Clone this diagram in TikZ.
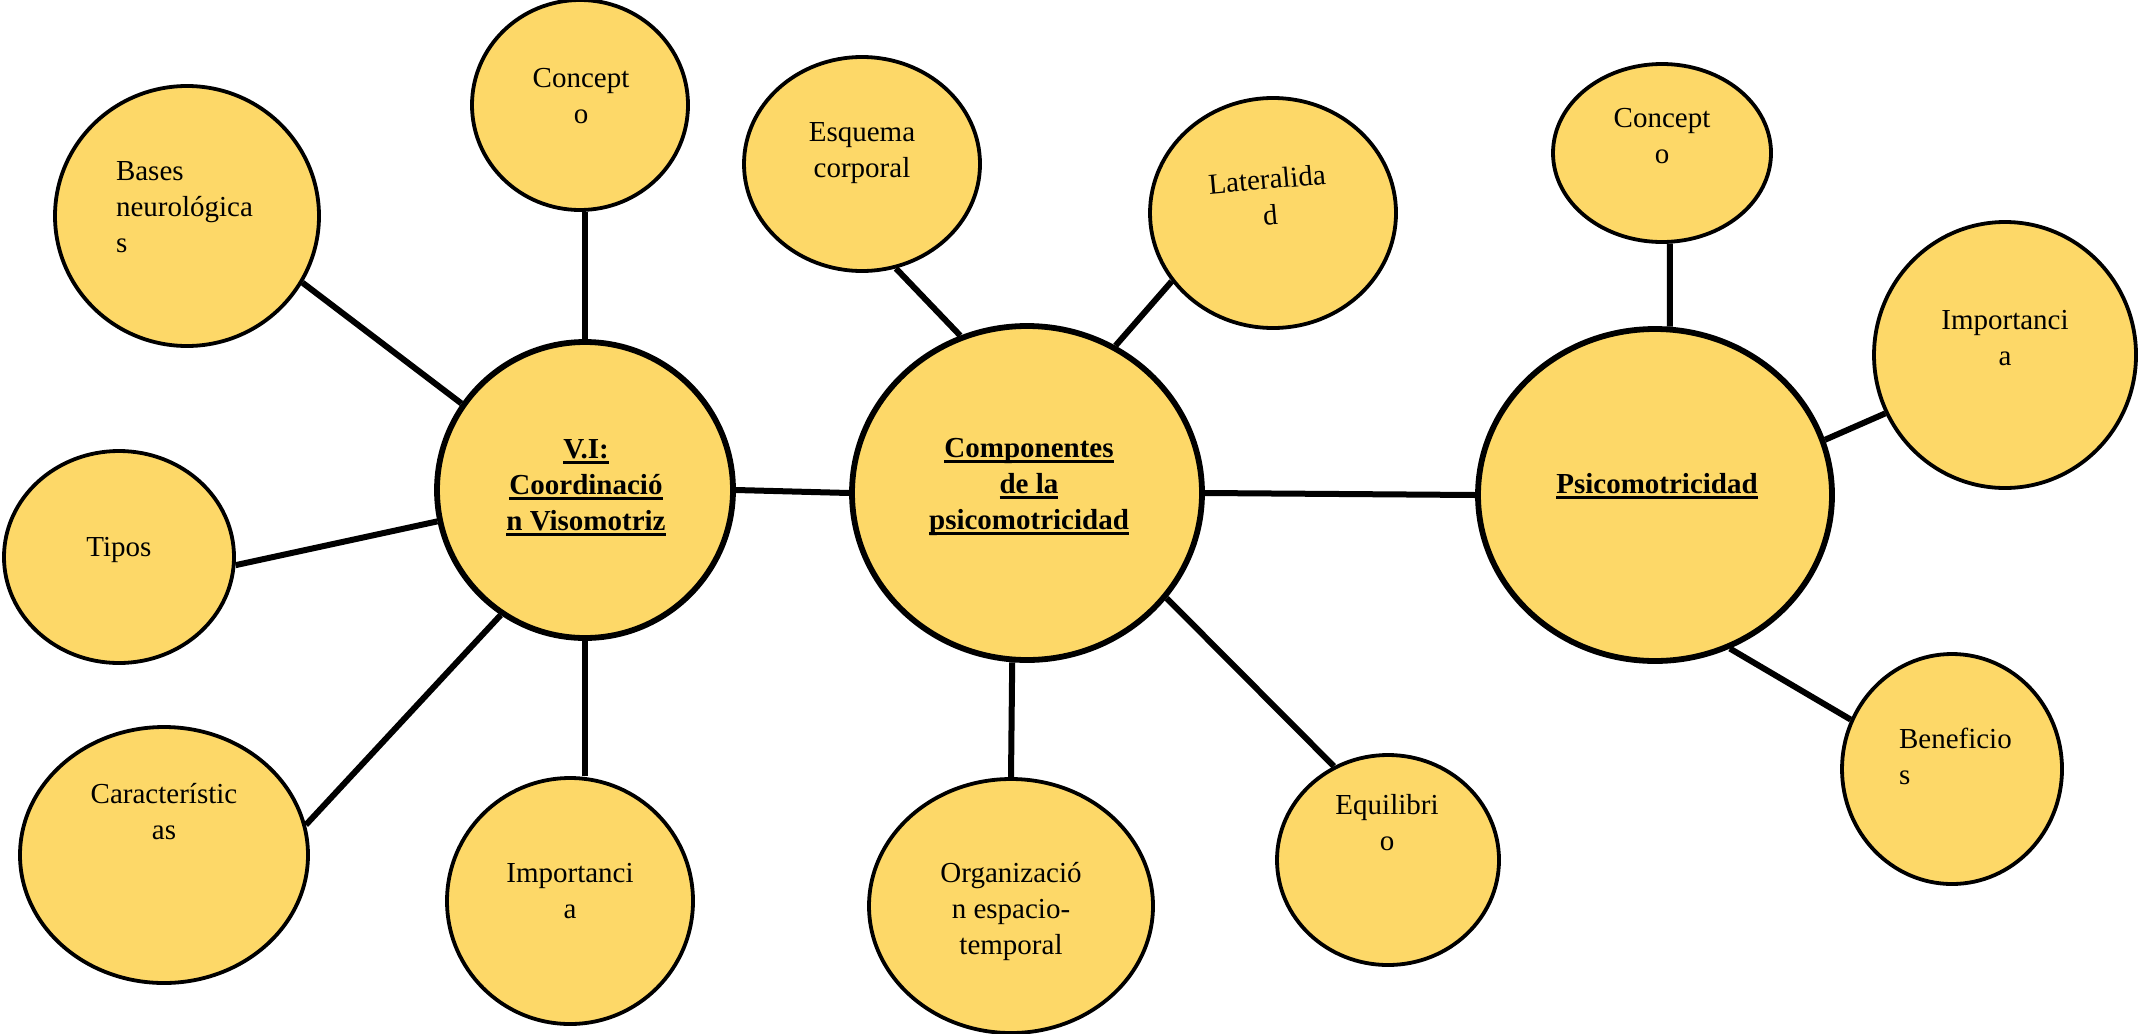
\documentclass[tikz,border=0pt]{standalone}
\usepackage{fontspec}
\setmainfont{Liberation Serif}
\usetikzlibrary{shapes.geometric}
\definecolor{fillColor}{RGB}{253,216,104}
\definecolor{drawColor}{RGB}{0,0,0}
\newsavebox{\ulbox}
\newcommand{\wordul}[1]{\sbox{\ulbox}{#1}\rlap{\rule[-2.8pt]{\wd\ulbox}{1.3pt}}\usebox{\ulbox}}
\tikzset{
  bubble/.style={ellipse, draw=drawColor, fill=fillColor, line width=1.9pt, inner sep=0pt},
  hub/.style={bubble, line width=2.9pt},
  lbl/.style={text=drawColor, font=\fontsize{14.5}{18}\selectfont, align=center, anchor=base, inner sep=0pt, outer sep=0pt},
  hublbl/.style={lbl, font=\fontsize{14.5}{18}\selectfont\bfseries},
  link/.style={draw=drawColor, line width=3pt}
}
\begin{document}
\begin{tikzpicture}[x=0.5pt,y=-0.5pt]
\path[use as bounding box,fill=white] (0,0) rectangle (2139,1033);

% bubbles
\node[bubble, minimum width=108pt, minimum height=105pt] (conc1) at ( 580,105) {};
\node[bubble, minimum width=132pt, minimum height=130pt] (bases) at ( 187,216) {};
\node[bubble, minimum width=115pt, minimum height=106pt] (tipos) at ( 119,557) {};
\node[bubble, minimum width=144pt, minimum height=128pt] (carac) at ( 164,855) {};
\node[bubble, minimum width=123pt, minimum height=123pt] (imp1)  at ( 570,901) {};
\node[hub,    minimum width=148pt, minimum height=148pt] (vi)    at ( 585,490) {};
\node[hub,    minimum width=175pt, minimum height=167pt] (comp)  at (1027,493) {};
\node[hub,    minimum width=177pt, minimum height=166pt] (psico) at (1655,495) {};
\node[bubble, minimum width=118pt, minimum height=107pt] (esq)   at ( 862,164) {};
\node[bubble, minimum width=123pt, minimum height=115pt] (lat)   at (1273,213) {};
\node[bubble, minimum width=142pt, minimum height=127pt] (org)   at (1011,906) {};
\node[bubble, minimum width=111pt, minimum height=105pt] (equ)   at (1388,860) {};
\node[bubble, minimum width=109pt, minimum height= 89pt] (conc2) at (1662,153) {};
\node[bubble, minimum width=131pt, minimum height=133pt] (imp2)  at (2005,355) {};
\node[bubble, minimum width=110pt, minimum height=115pt] (ben)   at (1952,769) {};

% links
\draw[link] (vi.north) -- (vi.north |- conc1.south);
\draw[link] (vi.145) -- (bases.330);
\draw[link] (vi.192) -- (tipos.356);
\draw[link] (vi.236) -- (carac.12);
\draw[link] (vi.south) -- (vi.south |- imp1.north);
\draw[link] (vi.east) -- (comp.west);
\draw[link] (comp.113) -- (esq.288);
\draw[link] (comp.59) -- (lat.214);
\draw[link] (comp.265) -- (org.north);
\draw[link] (comp.323) -- (equ.120);
\draw[link] (comp.east) -- (psico.west);
\draw[link] (psico.85) -- (conc2.275);
\draw[link] (psico.18) -- (imp2.206);
\draw[link] (psico.296) -- (ben.154);

% labels (anchored at the baseline of the last line)
\node[lbl] (conc1-t) at ( 581,123) {Concept\\o};
\node[lbl, align=left, anchor=base west] (bases-t) at (116,252) {Bases\\neurológica\\s};
\node[lbl] (tipos-t) at ( 119,556) {Tipos};
\node[lbl] (carac-t) at ( 164,839) {Característic\\as};
\node[lbl] (imp1-t)  at ( 570,918) {Importanci\\a};
\node[hublbl] (vi-t) at ( 586,530) {\wordul{V.I:}\\\wordul{Coordinació}\\\wordul{n Visomotriz}};
\node[hublbl] (comp-t) at (1029,529) {\wordul{Componentes}\\\wordul{de la}\\\wordul{psicomotricidad}};
\node[hublbl] (psico-t) at (1657,493) {\wordul{Psicomotricidad}};
\node[lbl] (esq-t)   at ( 862,177) {Esquema\\corporal};
\node[lbl, rotate=5] (lat-t) at (1271,225) {Lateralida\\d};
\node[lbl] (org-t)   at (1011,954) {Organizació\\n espacio-\\temporal};
\node[lbl] (equ-t)   at (1387,850) {Equilibri\\o};
\node[lbl] (conc2-t) at (1662,163) {Concept\\o};
\node[lbl] (imp2-t)  at (2005,365) {Importanci\\a};
\node[lbl, align=left, anchor=base west] (ben-t) at (1899,784) {Beneficio\\s};
\end{tikzpicture}
\end{document}
